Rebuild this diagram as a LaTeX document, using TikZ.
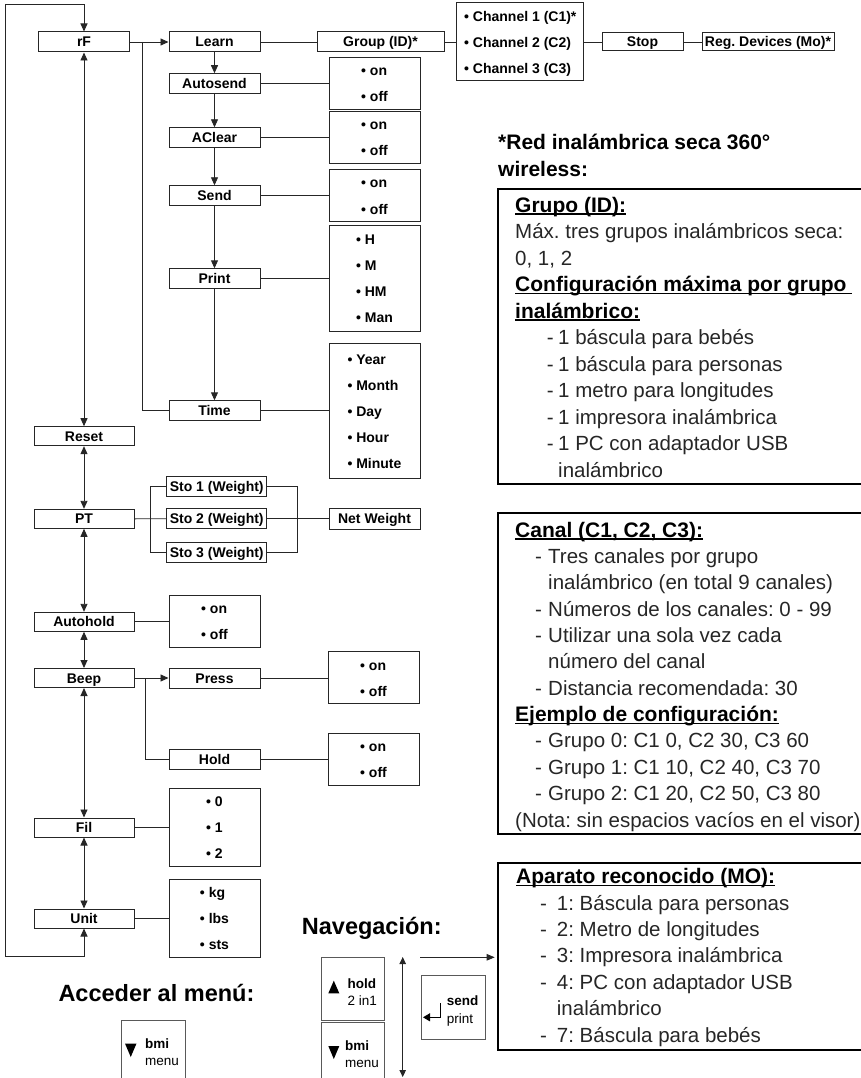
\documentclass[tikz,border=0pt]{standalone}
\usepackage{fontspec}
\setmainfont{Liberation Sans}
\usetikzlibrary{arrows.meta}
\frenchspacing
\newcommand{\ulx}[1]{\setbox0\hbox{#1}\rlap{\rule[-2.6pt]{\wd0}{1.3pt}}\box0}
\newcommand{\dashit}[2]{\makebox[#1][l]{-}#2}
\newcommand{\opl}[1]{\strut\textbullet\ #1}
\newcommand{\btop}{\rule{0pt}{10pt}}
\begin{document}
\begin{tikzpicture}[x=1pt,y=-1pt,
  conn/.style={draw=black!85, line width=0.9pt},
  onearrow/.style={-{Triangle[length=8pt,width=7pt]}},
  twoarrow/.style={{Triangle[length=8pt,width=7pt]}-{Triangle[length=8pt,width=7pt]}},
  smallone/.style={-{Triangle[length=8pt,width=6.5pt]}},
  smalltwo/.style={{Triangle[length=7pt,width=6.5pt]}-{Triangle[length=7pt,width=6.5pt]}},
  mybox/.style={draw=black!85, line width=1pt, inner sep=1pt, minimum height=20pt, text height=11pt, text depth=1pt, font=\bfseries\fontsize{14}{17}\selectfont},
  lbox/.style={mybox, minimum width=100pt, minimum height=19pt},
  mbox/.style={mybox, minimum width=91pt},
  optbox/.style={draw=black!85, line width=1pt, inner sep=0pt, align=left, font=\bfseries\fontsize{14}{26}\selectfont, minimum width=91pt},
  btn/.style={draw=black!65, line width=0.8pt, minimum width=63.3pt, minimum height=63.4pt, inner sep=0pt},
  tbox/.style={draw=black, line width=2pt, anchor=north west, inner sep=0pt},
  bodytxt/.style={anchor=base west, inner sep=0pt, text=black!85, font=\fontsize{20.5}{24}\selectfont},
  headtxt/.style={anchor=base west, inner sep=0pt, font=\bfseries\fontsize{21}{24}\selectfont},
  bigtxt/.style={anchor=base west, inner sep=0pt, font=\bfseries\fontsize{23.5}{28}\selectfont},
  btntxt/.style={anchor=north west, inner sep=0pt, align=left, font=\fontsize{13.5}{17.2}\selectfont},
]
\useasboundingbox (0,0) rectangle (861,1078);
\clip (0,0) rectangle (861,1078);

% ---------- left column ----------
\node[mybox, minimum width=91pt] (rF) at (84,42) {rF};
\node[lbox] (reset) at (84,436.2) {Reset};
\node[lbox] (pt) at (84,518.8) {PT};
\node[lbox] (autohold) at (84,621.8) {Autohold};
\node[lbox] (beep) at (84,678) {Beep};
\node[lbox] (fil) at (84,827.5) {Fil};
\node[lbox] (unit) at (84,918.5) {Unit};

% ---------- second column ----------
\node[mbox] (learn) at (214.5,42) {Learn};
\node[mbox] (autosend) at (214.5,83.7) {Autosend};
\node[mbox] (aclear) at (214.5,137.8) {AClear};
\node[mbox] (send) at (214.5,195.8) {Send};
\node[mbox] (print) at (214.5,278.8) {Print};
\node[mbox] (time) at (214.5,410.8) {Time};
\node[mbox] (press) at (214.5,678) {Press};
\node[mbox] (hold) at (214.5,759.7) {Hold};

% ---------- top row ----------
\node[mybox, minimum width=127pt] (group) at (380.5,42) {Group (ID)*};
\node[optbox, minimum width=127.3pt, minimum height=70.6pt] (chan) at (520.3,42)
  {\opl{Channel 1 (C1)*}\\\opl{Channel 2 (C2)}\\\opl{Channel 3 (C3)}};
\node[mybox, minimum width=81pt, minimum height=18pt] (stop) at (642.5,42) {Stop};
\node[mybox, minimum width=132pt, minimum height=18pt] (reg) at (768,42) {Reg. Devices (Mo)*};

% ---------- option boxes ----------
\node[optbox, minimum height=49pt] (oAutosend) at (374.5,83.2) {\opl{on}\\\opl{off}};
\node[optbox, minimum height=48.4pt] (oAclear) at (374.5,137.5) {\opl{on}\\\opl{off}};
\node[optbox, minimum height=49.7pt] (oSend) at (374.5,195.8) {\opl{on}\\\opl{off}};
\node[optbox, minimum height=106pt] (oPrint) at (374.5,278.7) {\opl{H}\\\opl{M}\\\opl{HM}\\\opl{Man}};
\node[optbox, minimum height=135pt] (oTime) at (374.5,410.8) {\opl{Year}\\\opl{Month}\\\opl{Day}\\\opl{Hour}\\\opl{Minute}};
\node[optbox, minimum height=49.3pt] (oAutohold) at (214.5,621.7) {\opl{on}\\\opl{off}};
\node[optbox, minimum height=48.3pt] (oPress) at (373.5,677.8) {\opl{on}\\\opl{off}};
\node[optbox, minimum height=48.7pt] (oHold) at (373.5,759.3) {\opl{on}\\\opl{off}};
\node[optbox, minimum height=78pt] (oFil) at (214.5,827.7) {\opl{0}\\\opl{1}\\\opl{2}};
\node[optbox, minimum height=78.4pt] (oUnit) at (214.5,918.5) {\opl{kg}\\\opl{lbs}\\\opl{sts}};

% ---------- PT branch ----------
\node[mybox, minimum width=100pt] (sto1) at (216.7,486) {Sto 1 (Weight)};
\node[mybox, minimum width=100pt] (sto2) at (216.7,518.7) {Sto 2 (Weight)};
\node[mybox, minimum width=100pt] (sto3) at (216.7,552) {Sto 3 (Weight)};
\node[mybox, minimum width=91pt, minimum height=20.7pt] (net) at (374.5,518.7) {Net Weight};

% ---------- coordinates ----------
\coordinate (loopT) at (5,4);
\coordinate (loopB) at (5,956.7);
\coordinate (br1) at (142,42);
\coordinate (br2) at (145.3,678);
\coordinate (bkl) at (150.7,518.8);
\coordinate (bkr) at (297.7,518.7);

% ---------- connectors ----------
\draw[conn,onearrow] (loopT) -| (rF.north);
\draw[conn,onearrow] (loopT) -- (loopB) -| (unit.south);
\draw[conn,twoarrow] (rF.south) -- (reset.north);
\draw[conn,twoarrow] (reset.south) -- (pt.north);
\draw[conn,twoarrow] (pt.south) -- (autohold.north);
\draw[conn,twoarrow] (autohold.south) -- (beep.north);
\draw[conn,twoarrow] (beep.south) -- (fil.north);
\draw[conn,twoarrow] (fil.south) -- (unit.north);

\draw[conn,onearrow] (rF.east) -- (learn.west);
\draw[conn] (br1) |- (time.west);
\draw[conn,onearrow] (learn.south) -- (autosend.north);
\draw[conn,onearrow] (autosend.south) -- (aclear.north);
\draw[conn,onearrow] (aclear.south) -- (send.north);
\draw[conn,onearrow] (send.south) -- (print.north);
\draw[conn,onearrow] (print.south) -- (time.north);

\draw[conn] (learn.east) -- (group.west);
\draw[conn] (group.east) -- (chan.west);
\draw[conn] (chan.east) -- (stop.west);
\draw[conn] (stop.east) -- (reg.west);

\draw[conn] (autosend.east) -- (autosend.east -| oAutosend.west);
\draw[conn] (aclear.east) -- (aclear.east -| oAclear.west);
\draw[conn] (send.east) -- (send.east -| oSend.west);
\draw[conn] (print.east) -- (print.east -| oPrint.west);
\draw[conn] (time.east) -- (time.east -| oTime.west);
\draw[conn] (autohold.east) -- (autohold.east -| oAutohold.west);
\draw[conn] (press.east) -- (press.east -| oPress.west);
\draw[conn] (hold.east) -- (hold.east -| oHold.west);
\draw[conn] (fil.east) -- (fil.east -| oFil.west);
\draw[conn] (unit.east) -- (unit.east -| oUnit.west);

\draw[conn] (pt.east) -- (sto2.west);
\draw[conn] (sto1.west) -| (bkl) |- (sto3.west);
\draw[conn] (sto1.east) -| (bkr) |- (sto3.east);
\draw[conn] (sto2.east) -- (net.west);

\draw[conn,onearrow] (beep.east) -- (press.west);
\draw[conn] (br2) |- (hold.west);

% ---------- right side texts ----------
\node[anchor=base west, inner sep=0pt, font=\bfseries\fontsize{21}{27}\selectfont] (title1) at (498,150) {*Red inalámbrica seca 360°};
\node[anchor=base west, inner sep=0pt, font=\bfseries\fontsize{21}{27}\selectfont] (title2) at (498,176.7) {wireless:};

\node[tbox, minimum width=378pt, minimum height=295pt] (boxA) at (496.7,188.3) {};
\node[headtxt] (a0) at (515,212) {\ulx{Grupo (ID):}};
\node[bodytxt] (a1) at (515,238.5) {Máx. tres grupos inalámbricos seca:};
\node[bodytxt] (a2) at (515,265) {0, 1, 2};
\node[headtxt] (a3) at (515,291.5) {\ulx{Configuración máxima por grupo\ }};
\node[headtxt] (a4) at (515,318) {\ulx{inalámbrico:}};
\node[bodytxt] (a5) at (546.7,344.5) {\dashit{11.3pt}{1 báscula para bebés}};
\node[bodytxt] (a6) at (546.7,371) {\dashit{11.3pt}{1 báscula para personas}};
\node[bodytxt] (a7) at (546.7,397.5) {\dashit{11.3pt}{1 metro para longitudes}};
\node[bodytxt] (a8) at (546.7,424) {\dashit{11.3pt}{1 impresora inalámbrica}};
\node[bodytxt] (a9) at (546.7,450.5) {\dashit{11.3pt}{1 PC con adaptador USB}};
\node[bodytxt] (a10) at (558,477) {inalámbrico};

\node[tbox, minimum width=378pt, minimum height=321.6pt] (boxB) at (496.7,511.7) {};
\node[headtxt] (b0) at (515,537) {\ulx{Canal (C1, C2, C3):}};
\node[bodytxt] (b1) at (535,563.4) {\dashit{13pt}{Tres canales por grupo}};
\node[bodytxt] (b2) at (548,589.7) {inalámbrico (en total 9 canales)};
\node[bodytxt] (b3) at (535,616.1) {\dashit{13pt}{Números de los canales: 0 - 99}};
\node[bodytxt] (b4) at (535,642.4) {\dashit{13pt}{Utilizar una sola vez cada}};
\node[bodytxt] (b5) at (548,668.8) {número del canal};
\node[bodytxt] (b6) at (535,695.2) {\dashit{13pt}{Distancia recomendada: 30}};
\node[headtxt] (b7) at (515,721.5) {\ulx{Ejemplo de configuración:}};
\node[bodytxt] (b8) at (535,747.9) {\dashit{13pt}{Grupo 0: C1 0, C2 30, C3 60}};
\node[bodytxt] (b9) at (535,774.2) {\dashit{13pt}{Grupo 1: C1 10, C2 40, C3 70}};
\node[bodytxt] (b10) at (535,800.6) {\dashit{13pt}{Grupo 2: C1 20, C2 50, C3 80}};
\node[bodytxt] (b11) at (515,827) {(Nota: sin espacios vacíos en el visor)};

\node[tbox, minimum width=378pt, minimum height=187pt] (apa) at (496.7,862.3) {};
\node[headtxt] (c0) at (516,883.7) {\ulx{Aparato reconocido (MO):}};
\node[bodytxt] (c1) at (540,910.1) {\dashit{16.7pt}{1: Báscula para personas}};
\node[bodytxt] (c2) at (540,936.5) {\dashit{16.7pt}{2: Metro de longitudes}};
\node[bodytxt] (c3) at (540,962.9) {\dashit{16.7pt}{3: Impresora inalámbrica}};
\node[bodytxt] (c4) at (540,989.3) {\dashit{16.7pt}{4: PC con adaptador USB}};
\node[bodytxt] (c5) at (556.7,1015.7) {inalámbrico};
\node[bodytxt] (c6) at (540,1042.1) {\dashit{16.7pt}{7: Báscula para bebés}};

% ---------- navigation ----------
\node[bigtxt] (navt) at (301.7,934) {Navegación:};
\node[bigtxt] (acct) at (58.3,1001) {Acceder al menú:};

\node[btn] (holdbtn) at (352.7,989) {};
\node[btn] (bmibtn) at (352.7,1053.7) {};
\node[btn] (sendbtn) at (453.35,1007.35) {};
\node[btn] (accbtn) at (153.5,1052.4) {};

\fill (328.3,993.3) -- (339.3,993.3) -- (333.8,980.7) -- cycle;
\node[btntxt] (holdt) at (347.5,978.3) {\btop\textbf{hold}\\2 in1};

\fill (328.3,1046) -- (339.3,1046) -- (333.8,1059) -- cycle;
\node[btntxt] (bmit) at (345,1040.5) {\btop\textbf{bmi}\\menu};

\fill (125,1043.5) -- (136.5,1043.5) -- (130.75,1057) -- cycle;
\node[btntxt] (bmia) at (145,1038.5) {\btop\textbf{bmi}\\menu};

\coordinate (ret1) at (440,1003.3);
\coordinate (ret2) at (423,1017.3);
\draw[line width=1pt, -{Triangle[length=7pt,width=8pt]}] (ret1) |- (ret2);
\node[btntxt] (sendt) at (446.7,995.7) {\btop\textbf{send}\\print};

\coordinate (na1) at (402.7,957);
\coordinate (na2) at (402.7,1077);
\draw[conn,smalltwo] (na1) -- (na2);
\coordinate (na3) at (420,957.3);
\draw[conn,smallone,shorten >=2pt] (na3) -- (na3 -| apa.west);
\end{tikzpicture}
\end{document}
